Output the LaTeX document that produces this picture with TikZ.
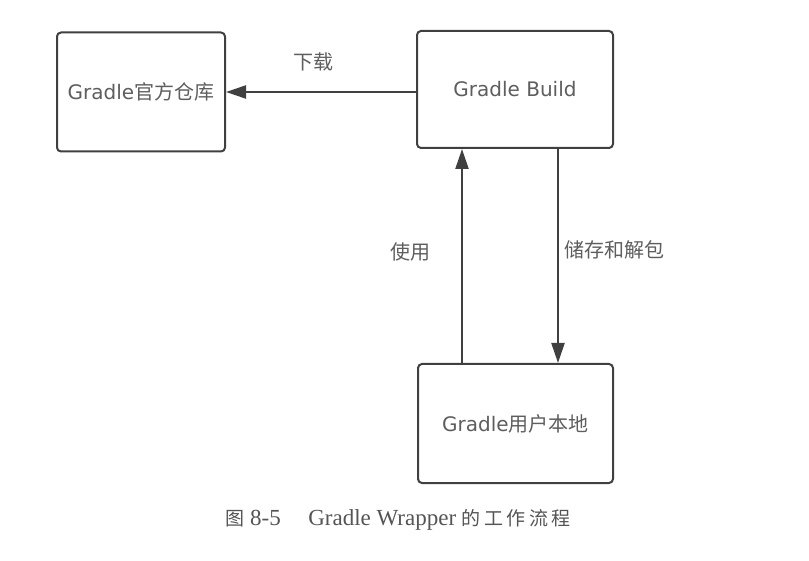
\documentclass[tikz,border=0pt]{standalone}
\usepackage{fontspec}
\setmainfont{Liberation Serif}
\newfontfamily\cjk{Noto Sans CJK SC}
\newfontfamily\cjkcap{Noto Sans CJK SC}[LetterSpace=18]
\newfontfamily\lat{DejaVu Sans}
\usetikzlibrary{arrows.meta}
\definecolor{linec}{HTML}{404040}
\definecolor{textc}{HTML}{5E5E5E}
\tikzset{
  box/.style={draw=linec, line width=2pt, rounded corners=4pt, inner sep=0pt, text=textc, font=\cjk\fontsize{20}{22}\selectfont},
  arr/.style={draw=linec, line width=2.2pt, -{Triangle[length=20pt,width=13pt]}},
  lbl/.style={text=textc, font=\cjk\fontsize{20}{22}\selectfont},
  caption/.style={text=textc!90!black, font=\fontsize{23}{25}\selectfont},
}
\newcommand{\gr}{{\lat Gradle}}
\begin{document}
\begin{tikzpicture}[x=1pt,y=-1pt]
\useasboundingbox[fill=white] (0,0) rectangle (809,561);
\node[box, minimum width=168pt, minimum height=119pt] (b1) at (141,92) {\gr 官方仓库};
\node[box, minimum width=196pt, minimum height=117pt] (b2) at (515,89.5) {\lat Gradle Build};
\node[box, minimum width=195pt, minimum height=119pt] (b3) at (515.5,423.5) {\gr 用户本地};
\coordinate (u) at (462,0);
\coordinate (d) at (558,0);
\draw[arr] (b1.east -| b2.west) -- (b1.east);
\draw[arr] (b3.north -| u) -- (b2.south -| u);
\draw[arr] (b2.south -| d) -- (b3.north -| d);
\node[lbl] (l1) at (313,62) {下载};
\node[lbl] (l2) at (410,252) {使用};
\node[lbl] (l3) at (614,250) {储存和解包};
\node[caption] (cap) at (398,520) {{\cjkcap\fontsize{19}{21}\selectfont 图}\hspace{0.25em}8-5\hspace{1.2em}Gradle Wrapper\hspace{0.25em}{\cjkcap\fontsize{19}{21}\selectfont 的工作流程}};
\end{tikzpicture}
\end{document}
